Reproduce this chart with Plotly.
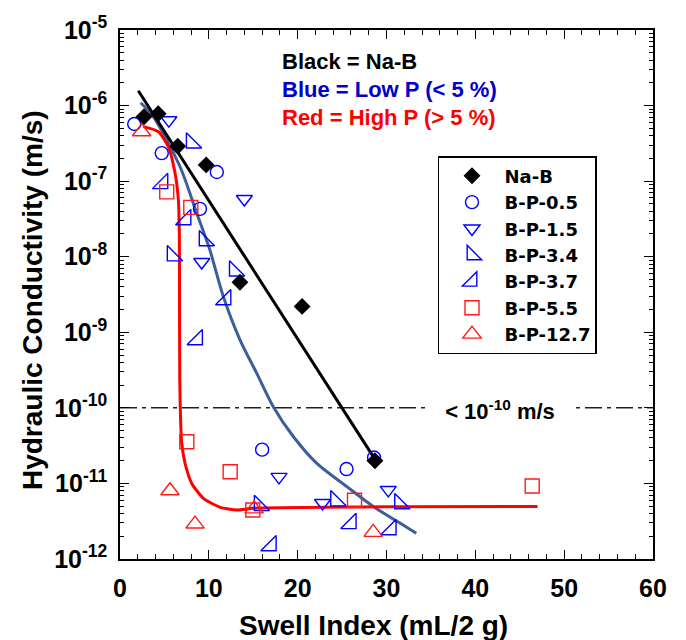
import plotly.graph_objects as go

# ---------------- data ----------------
na_b_x = [2.7, 4.3, 6.5, 9.7, 13.5, 20.5, 28.7]
na_b_y = [7.1e-7, 7.8e-7, 2.9e-7, 1.64e-7, 4.6e-9, 2.2e-9, 2.0e-11]

bp05_x = [1.6, 4.7, 10.9, 9.0, 16.0, 25.5, 28.6]
bp05_y = [5.7e-7, 2.35e-7, 1.32e-7, 4.3e-8, 2.8e-11, 1.55e-11, 2.2e-11]

bp15_x = [5.5, 14.0, 9.2, 17.9, 22.8, 30.2]
bp15_y = [6.4e-7, 5.8e-8, 8.5e-9, 1.22e-11, 5.5e-12, 8.2e-12]

bp34_x = [8.05, 9.5, 5.9, 12.9, 15.7, 24.3, 31.5]
bp34_y = [3.2e-7, 1.63e-8, 1.03e-8, 6.5e-9, 5.1e-12, 5.9e-12, 5.4e-12]

bp37_x = [4.8, 7.4, 11.9, 8.7, 17.0, 26.0, 30.5]
bp37_y = [9.3e-8, 3.1e-8, 2.7e-9, 8.0e-10, 1.5e-12, 2.95e-12, 2.45e-12]

bp55_x = [5.26, 7.97, 7.52, 12.4, 14.95, 26.4, 46.4]
bp55_y = [7.2e-8, 4.5e-8, 3.56e-11, 1.43e-11, 4.45e-12, 6.0e-12, 9.25e-12]

bp127_x = [2.44, 5.63, 8.45, 15.1, 28.5]
bp127_y = [4.5e-7, 8.0e-12, 2.9e-12, 4.6e-12, 2.25e-12]

# fitted trend curves
black_fit_x = [2.06, 28.8]
black_fit_y = [1.57e-6, 2.0e-11]

blue_fit_x = [2.33, 3.75, 6.76, 8.64, 10.06, 11.64, 13.52, 15.40, 17.27,
              19.53, 22.16, 25.54, 28.54, 31.55, 33.35]
blue_fit_y = [1.09e-6, 7.13e-7, 1.55e-7, 3.76e-8, 1.29e-8, 2.96e-9, 7.9e-10,
              2.86e-10, 1.03e-10, 4.15e-11, 1.84e-11, 9.06e-12, 4.92e-12,
              2.97e-12, 2.19e-12]

red_fit_x = [2.63, 4.32, 5.44, 6.20, 6.57, 6.68, 6.70, 6.73, 6.82, 6.95, 7.32,
             8.08, 9.39, 11.27, 13.15, 15.02, 31.55, 47.0]
red_fit_y = [5.26e-7, 4.5e-7, 2.86e-7, 1.27e-7, 5.64e-8, 2.04e-8, 2.67e-9,
             2.34e-10, 6.9e-11, 3.4e-11, 1.85e-11, 1.0e-11, 6.35e-12, 4.83e-12,
             4.45e-12, 4.69e-12, 4.92e-12, 4.97e-12]

threshold = 1e-10
x_range = [0, 60]
y_exponents = [-12, -11, -10, -9, -8, -7, -6, -5]
y_tickvals = [10.0 ** e for e in y_exponents]
y_ticktext = ["10<sup>%d</sup>" % e for e in y_exponents]
x_tickvals = [0, 10, 20, 30, 40, 50, 60]

FONT = "Liberation Sans, Arial, sans-serif"
LEGEND_FONT = "DejaVu Sans, Liberation Sans, sans-serif"
BLUE = "#0000ff"
RED = "#ff1a1a"
BLUE_FIT = "#3a5f9c"

fig = go.Figure()

# reference threshold line
fig.add_trace(go.Scatter(x=x_range, y=[threshold, threshold], mode="lines",
                         line=dict(color="#222222", width=1.5, dash="17px,5px,4px,5px"),
                         showlegend=False, hoverinfo="skip"))

# fitted curves
fig.add_trace(go.Scatter(x=blue_fit_x, y=blue_fit_y, mode="lines",
                         line=dict(color=BLUE_FIT, width=3, shape="spline", smoothing=0.8),
                         showlegend=False))
fig.add_trace(go.Scatter(x=red_fit_x, y=red_fit_y, mode="lines",
                         line=dict(color="#ff0000", width=3, shape="spline", smoothing=0.6),
                         showlegend=False))
fig.add_trace(go.Scatter(x=black_fit_x, y=black_fit_y, mode="lines",
                         line=dict(color="black", width=3), showlegend=False))

def marker_trace(x, y, name, symbol, color, size, rank, filled=False):
    mk = dict(symbol=symbol, size=size, color=color,
              line=dict(color=color, width=1.4 if not filled else 0))
    return go.Scatter(x=x, y=y, mode="markers", name=name, marker=mk,
                      legendrank=rank)

fig.add_trace(marker_trace(bp05_x, bp05_y, "B-P-0.5", "circle-open", BLUE, 13, 2))
fig.add_trace(marker_trace(bp15_x, bp15_y, "B-P-1.5", "triangle-down-open", BLUE, 14, 3))
fig.add_trace(marker_trace(bp34_x, bp34_y, "B-P-3.4", "triangle-sw-open", BLUE, 17, 4))
fig.add_trace(marker_trace(bp37_x, bp37_y, "B-P-3.7", "triangle-se-open", BLUE, 17, 5))
fig.add_trace(marker_trace(bp55_x, bp55_y, "B-P-5.5", "square-open", RED, 14, 6))
fig.add_trace(marker_trace(bp127_x, bp127_y, "B-P-12.7", "triangle-up-open", RED, 16, 7))
fig.add_trace(marker_trace(na_b_x, na_b_y, "Na-B", "diamond", "black", 13, 1, filled=True))

axis_common = dict(showline=True, linecolor="black", linewidth=1.5, mirror="allticks",
                   ticks="inside", tickcolor="black", showgrid=False, zeroline=False,
                   tickfont=dict(family=FONT, size=25, color="black", weight="bold"))

fig.update_xaxes(range=x_range, tickvals=x_tickvals, ticklen=9, tickwidth=1.2,
                 ticklabelstandoff=6,
                 minor=dict(dtick=2, ticks="inside", ticklen=5, tickcolor="black", tickwidth=1),
                 **axis_common)
fig.update_yaxes(type="log", range=[-12, -5], tickvals=y_tickvals, ticktext=y_ticktext,
                 ticklen=9, tickwidth=1.2, ticklabelstandoff=6,
                 minor=dict(dtick="D1", ticks="inside", ticklen=4, tickcolor="black", tickwidth=1),
                 **axis_common)

annotations = [
    dict(text="Black = Na-B", x=0.300, y=0.940, xref="paper", yref="paper",
         xanchor="left", yanchor="middle", showarrow=False,
         font=dict(family=FONT, size=22, color="black", weight="bold")),
    dict(text="Blue = Low P (< 5 %)", x=0.300, y=0.8866, xref="paper", yref="paper",
         xanchor="left", yanchor="middle", showarrow=False,
         font=dict(family=FONT, size=22, color="#0000cc", weight="bold")),
    dict(text="Red = High P (> 5 %)", x=0.300, y=0.835, xref="paper", yref="paper",
         xanchor="left", yanchor="middle", showarrow=False,
         font=dict(family=FONT, size=22, color="#ff0000", weight="bold")),
    dict(text="< 10<sup>-10</sup> m/s", x=42.8, y=-10, xref="x", yref="y",
         xanchor="center", yanchor="middle", showarrow=False, bgcolor="white",
         width=140, yshift=-2,
         font=dict(family=FONT, size=22, color="black", weight="bold")),
    dict(text="Swell Index (mL/2 g)", x=0.4747, y=-0.1248, xref="paper", yref="paper",
         xanchor="center", yanchor="middle", showarrow=False,
         font=dict(family=FONT, size=28, color="black", weight="bold")),
    dict(text="Hydraulic Conductivity (m/s)", x=-0.165, y=0.4896, xref="paper", yref="paper",
         xanchor="center", yanchor="middle", showarrow=False, textangle=-90,
         font=dict(family=FONT, size=28, color="black", weight="bold")),
]

fig.update_layout(
    width=686, height=640,
    margin=dict(l=120, r=33, t=30, b=81, pad=0),
    plot_bgcolor="white", paper_bgcolor="white",
    annotations=annotations,
    showlegend=True,
    legend=dict(x=0.5966, y=0.7618, xanchor="left", yanchor="top",
                bordercolor="black", borderwidth=1.5, bgcolor="white",
                itemwidth=55, tracegroupgap=0,
                font=dict(family=LEGEND_FONT, size=18, color="black", weight="bold")),
)

fig.write_html("out.html")
